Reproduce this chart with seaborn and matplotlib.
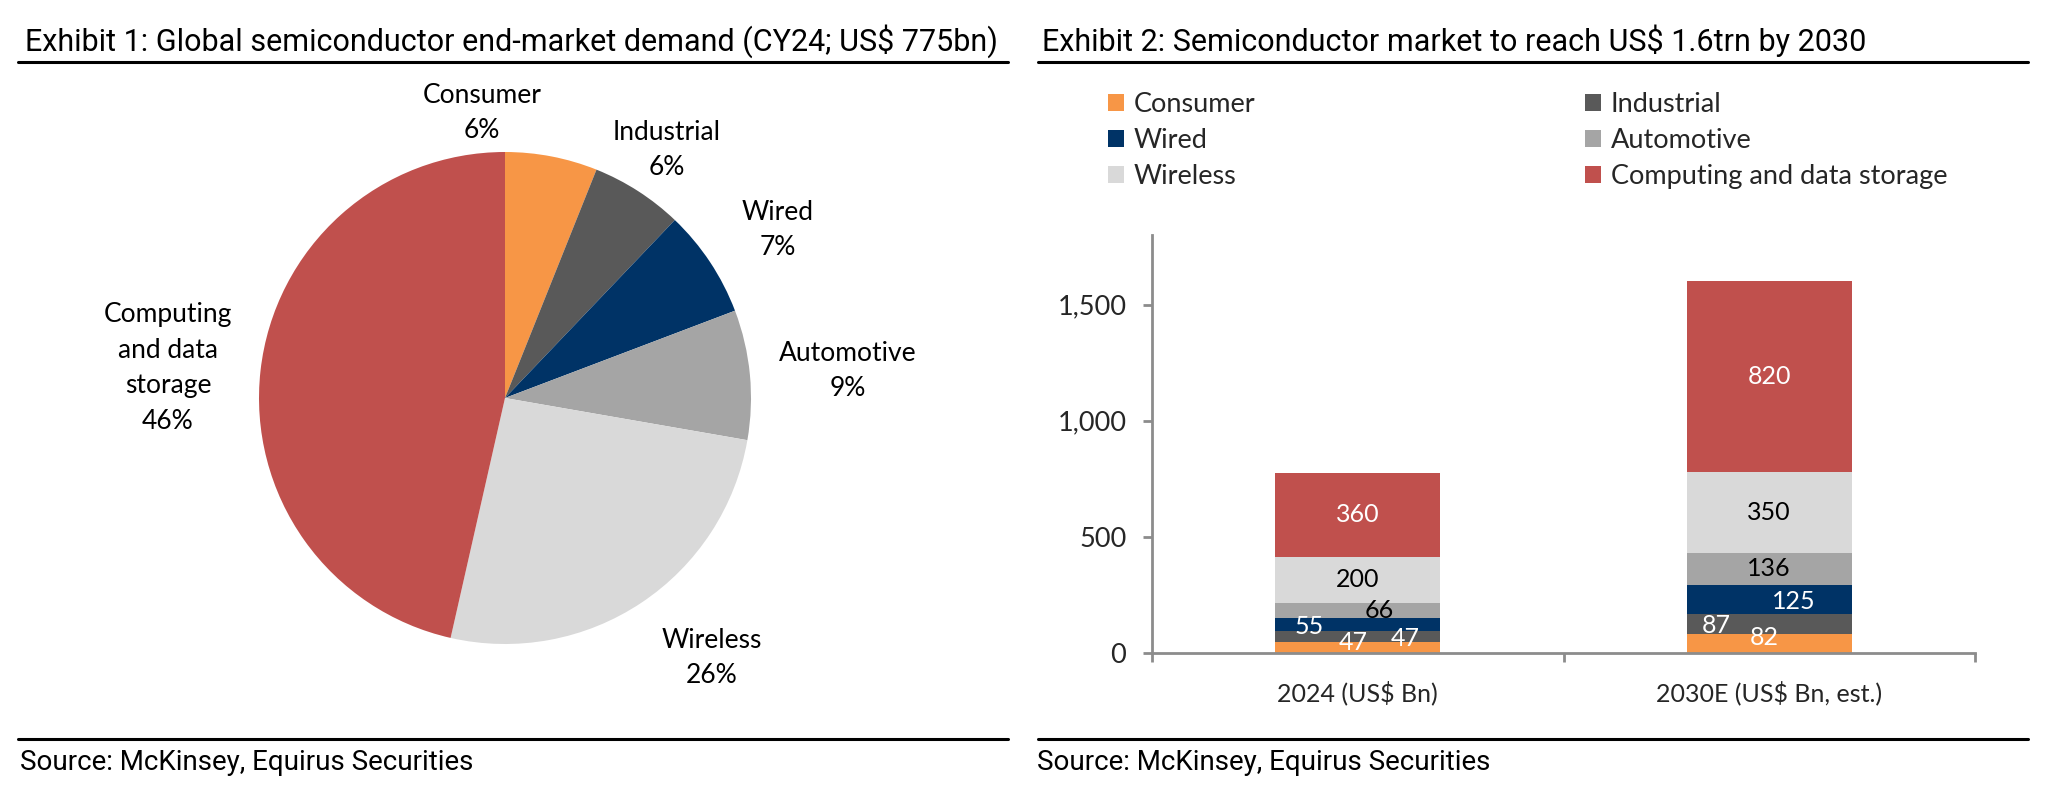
import numpy as np
import pandas as pd
import matplotlib
matplotlib.use("Agg")
import matplotlib.pyplot as plt
from matplotlib.lines import Line2D
from matplotlib.patches import Patch
import seaborn as sns

# ---------------- data ----------------
segments = ["Consumer", "Industrial", "Wired", "Automotive", "Wireless",
            "Computing and data storage"]
pie_names = ["Consumer", "Industrial", "Wired", "Automotive", "Wireless",
             "Computing\nand data\nstorage"]
years = ["2024 (US$ Bn)", "2030E (US$ Bn, est.)"]
values_2024 = [47, 47, 55, 66, 200, 360]
values_2030 = [82, 87, 125, 136, 350, 820]
y_ticks = [0, 500, 1000, 1500]
y_tick_labels = ["0", "500", "1,000", "1,500"]
title_left = "Exhibit 1: Global semiconductor end-market demand (CY24; US$ 775bn)"
title_right = "Exhibit 2: Semiconductor market to reach US$ 1.6trn by 2030"
source_text = "Source: McKinsey, Equirus Securities"

# ---------------- style ----------------
colors = ["#F79646", "#595959", "#003366", "#A5A5A5", "#D9D9D9", "#C0504D"]
label_colors = ["white", "white", "white", "black", "black", "white"]
# pie label positions (in pie-radius units) - layout only
pie_label_pos = [(-0.093, 1.159), (0.659, 1.008), (1.110, 0.683),
                 (1.394, 0.110), (0.841, -1.057), (-1.370, 0.122)]
# bar label nudges in pixels (dx, dy up) - layout only
nudge_2024 = [(-5, 5.5), (47, -1.5), (-49, -2), (22, 0), (0, 0), (0, 0)]
nudge_2030 = [(-5, 5.5), (-53, -2), (25, -2.5), (0, 0), (0, 0), (0, 0)]

sns.set_theme(style="white")
plt.rcParams["font.family"] = ["Lato", "DejaVu Sans"]
title_font = ["Roboto", "DejaVu Sans"]

W, H = 2048, 800
fig = plt.figure(figsize=(W / 100, H / 100), dpi=100)
fig.patch.set_facecolor("white")

def fx(px):
    return px / W

def fy(py):
    return 1 - py / H

# ---------------- headers & footers ----------------
for x0, x1, tx, title in [(18, 1008, 25, title_left), (1038, 2028, 1042, title_right)]:
    fig.text(fx(tx), fy(51), title, fontsize=22, family=title_font,
             va="baseline", ha="left", color="black")
    fig.add_artist(Line2D([fx(x0), fx(x1)], [fy(62), fy(62)], color="black", lw=2.2))
    fig.add_artist(Line2D([fx(x0), fx(x1)], [fy(739), fy(739)], color="black", lw=2.2))
    fig.text(fx(tx - 5), fy(770), source_text, fontsize=20, family=title_font,
             va="baseline", ha="left", color="black")

# ---------------- pie ----------------
cx, cy, r = 505, 398, 246
span = 1.5
ax_pie = fig.add_axes([fx(cx - r * span), fy(cy + r * span), fx(2 * r * span), 2 * r * span / H])
ax_pie.pie(values_2024, colors=colors, startangle=90, counterclock=False, radius=1,
           wedgeprops=dict(linewidth=0))
ax_pie.set_xlim(-span, span)
ax_pie.set_ylim(-span, span)
ax_pie.set_aspect("equal")
ax_pie.axis("off")
total = sum(values_2024)
for name, v, (px, py) in zip(pie_names, values_2024, pie_label_pos):
    pct = int(round(100 * v / total))
    ax_pie.text(px, py, f"{name}\n{pct}%", ha="center", va="center",
                fontsize=19, linespacing=1.53, color="black")

# ---------------- stacked bars ----------------
x_left, x_right, y_zero, y_top = 1152, 1975, 653, 235
ax = fig.add_axes([fx(x_left), fy(y_zero), fx(x_right - x_left), (y_zero - y_top) / H])
bottom = np.zeros(len(years))
px_per_pt = 100 / 72
for i, (seg, col) in enumerate(zip(segments, colors)):
    vals = np.array([values_2024[i], values_2030[i]], dtype=float)
    sns.barplot(x=years, y=vals, bottom=bottom, color=col, saturation=1,
                width=0.4, ax=ax, linewidth=0)
    for j, (v, nudge) in enumerate(zip(vals, [nudge_2024[i], nudge_2030[i]])):
        ax.annotate(f"{int(v)}", xy=(j, bottom[j] + v / 2),
                    xytext=(nudge[0] / px_per_pt, nudge[1] / px_per_pt),
                    textcoords="offset points", ha="center", va="center",
                    fontsize=18, color=label_colors[i])
    bottom += vals

ax.set_xlim(-0.5, 1.5)
ax.set_ylim(0, 1800)
ax.set_yticks(y_ticks)
ax.set_yticklabels(y_tick_labels)
ax.set_xticks([0, 1])
ax.set_xticklabels(years)
ax.set_xticks([-0.5, 0.5, 1.5], minor=True)
ax.set_xlabel("")
ax.set_ylabel("")
for s in ["top", "right"]:
    ax.spines[s].set_visible(False)
for s in ["left", "bottom"]:
    ax.spines[s].set_color("#8C8C8C")
    ax.spines[s].set_linewidth(2)
ax.tick_params(axis="y", which="major", direction="out", length=6.5, width=2,
               color="#8C8C8C", pad=12, labelsize=19.5, left=True)
ax.tick_params(axis="x", which="major", length=0, pad=20, labelsize=18)
ax.tick_params(axis="x", which="minor", direction="out", length=6.5, width=2,
               color="#8C8C8C", bottom=True)
ax.set_facecolor("white")
ax.grid(False)

# legend: two stacked columns
handles = [Patch(facecolor=c, edgecolor="none") for c in colors]
col1 = [0, 2, 4]
col2 = [1, 3, 5]
leg_kw = dict(frameon=False, fontsize=19.5, handlelength=0.6, handleheight=0.6,
              handletextpad=0.35, labelspacing=0.4, borderpad=0, borderaxespad=0)
leg1 = fig.legend([handles[k] for k in col1], [segments[k] for k in col1],
                  loc="upper left", bbox_to_anchor=(fx(1108), fy(92)), **leg_kw)
leg2 = fig.legend([handles[k] for k in col2], [segments[k] for k in col2],
                  loc="upper left", bbox_to_anchor=(fx(1585), fy(92)), **leg_kw)

fig.savefig("out.png", dpi=100, facecolor="white")
